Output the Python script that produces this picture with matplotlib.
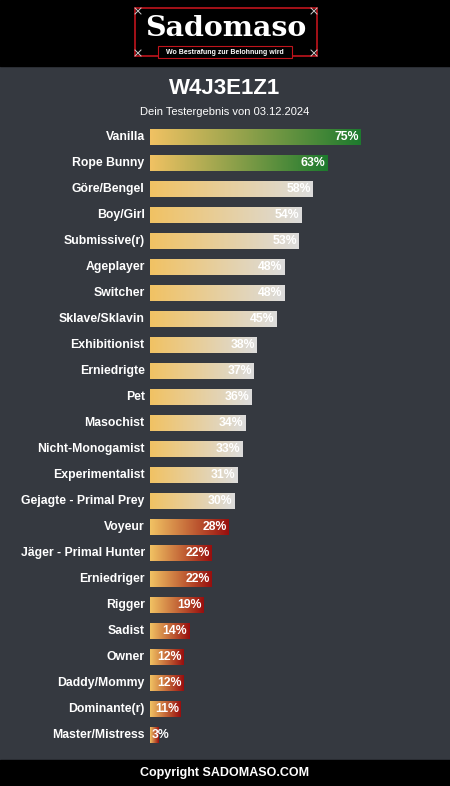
import matplotlib
matplotlib.use("Agg")
import matplotlib.pyplot as plt
from matplotlib.colors import LinearSegmentedColormap
from matplotlib.patches import Rectangle
import numpy as np

categories = ["Vanilla", "Rope Bunny", "Göre/Bengel", "Boy/Girl", "Submissive(r)",
              "Ageplayer", "Switcher", "Sklave/Sklavin", "Exhibitionist", "Erniedrigte",
              "Pet", "Masochist", "Nicht-Monogamist", "Experimentalist",
              "Gejagte - Primal Prey", "Voyeur", "Jäger - Primal Hunter", "Erniedriger",
              "Rigger", "Sadist", "Owner", "Daddy/Mommy", "Dominante(r)", "Master/Mistress"]
values = [75, 63, 58, 54, 53, 48, 48, 45, 38, 37, 36, 34, 33, 31, 30, 28, 22, 22, 19, 14, 12, 12, 11, 3]
title = "W4J3E1Z1"
subtitle = "Dein Testergebnis von 03.12.2024"
footer = "Copyright SADOMASO.COM"

W, H = 450, 786
BG = "#353940"
START = "#f1c263"
GREEN = "#1d7a2e"
GREY = "#dcdcdc"
RED = "#980e0e"
FONT = "Liberation Sans"

fig = plt.figure(figsize=(W / 100, H / 100), dpi=100)
fig.patch.set_facecolor(BG)

# background / decoration axes in pixel coords
bg = fig.add_axes([0, 0, 1, 1])
bg.set_xlim(0, W)
bg.set_ylim(H, 0)
bg.axis("off")
bg.add_patch(Rectangle((0, 0), W, 66, color="black", zorder=1))
bg.add_patch(Rectangle((0, 760), W, 26, color="black", zorder=1))

# logo
bg.add_patch(Rectangle((135, 8), 182, 48, facecolor="black", edgecolor="#c0141c", lw=1.2, zorder=2))
bg.add_patch(Rectangle((158, 46), 134, 12, facecolor="black", edgecolor="#c0141c", lw=0.8, zorder=3))
bg.text(226, 28, "Sadomaso", color="white", fontsize=20.5, fontweight="bold",
        family="DejaVu Serif", ha="center", va="center", zorder=4)
bg.text(225, 52.5, "Wo Bestrafung zur Belohnung wird", color="white", fontsize=5,
        fontweight="bold", family=FONT, ha="center", va="center", zorder=4)
for (cx, cy) in [(138, 11), (314, 11), (138, 53), (314, 53)]:
    bg.plot([cx - 3, cx + 3], [cy - 3, cy + 3], color="#cccccc", lw=0.7, zorder=4)
    bg.plot([cx - 3, cx + 3], [cy + 3, cy - 3], color="#cccccc", lw=0.7, zorder=4)

bg.text(225, 89, title, color="white", fontsize=16, fontweight="bold", family=FONT,
        ha="center", va="center", zorder=4)
bg.text(225, 112, subtitle, color="white", fontsize=8, family=FONT,
        ha="center", va="center", zorder=4)
bg.text(225, 773, footer, color="white", fontsize=9, fontweight="bold", family=FONT,
        ha="center", va="center", zorder=4)

# bar axes: x 0..100 maps to px 150..431, y rows 26px apart starting at 137
x0, x1 = 150, 431
ytop, ybot = 124, 748
ax = fig.add_axes([x0 / W, 1 - ybot / H, (x1 - x0) / W, (ybot - ytop) / H])
ax.set_xlim(0, 100)
ax.set_ylim(len(categories) - 0.5, -0.5)
ax.axis("off")
ax.patch.set_alpha(0)

grad = np.linspace(0, 1, 256).reshape(1, -1)
for i, (cat, v) in enumerate(zip(categories, values)):
    end = GREEN if v >= 60 else (GREY if v >= 30 else RED)
    cmap = LinearSegmentedColormap.from_list("g", [START, end])
    bar = ax.barh(i, v, height=0.64, color="none", edgecolor="none")[0]
    im = ax.imshow(grad, cmap=cmap, aspect="auto", extent=[0, v, i + 0.32, i - 0.32],
                   interpolation="bilinear", zorder=2)
    im.set_clip_path(bar)
    ax.annotate(cat, xy=(0, i), xytext=(-3.8, 0), textcoords="offset points",
                ha="right", va="center", color="white", fontsize=8.8, fontweight="bold",
                family=FONT, annotation_clip=False)
    if v >= 8:
        ax.annotate(f"{v}%", xy=(v, i), xytext=(-1.5, 0), textcoords="offset points",
                    ha="right", va="center", color="white", fontsize=8.8, fontweight="bold",
                    family=FONT, zorder=5)
    else:
        ax.annotate(f"{v}%", xy=(0, i), xytext=(1.2, 0), textcoords="offset points",
                    ha="left", va="center", color="white", fontsize=8.8, fontweight="bold",
                    family=FONT, zorder=5)

ax.set_xlim(0, 100)
ax.set_ylim(len(categories) - 0.5, -0.5)

fig.savefig("out.png", dpi=100, facecolor=fig.get_facecolor())
